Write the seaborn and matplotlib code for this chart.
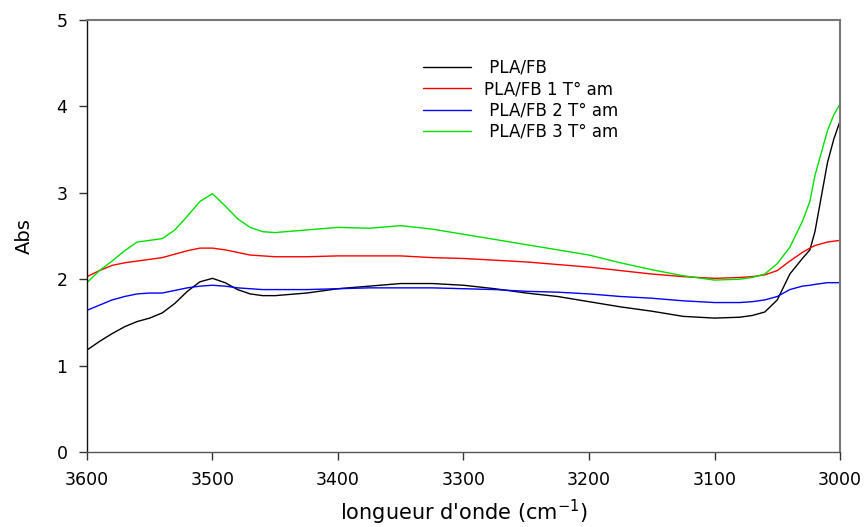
import matplotlib
matplotlib.use("Agg")
import matplotlib.pyplot as plt
import seaborn as sns
import pandas as pd

wavenumber = [3600, 3590, 3580, 3570, 3560, 3550, 3540, 3530, 3520, 3510, 3500,
              3490, 3480, 3470, 3460, 3450, 3425, 3400, 3375, 3350, 3325, 3300,
              3275, 3250, 3225, 3200, 3175, 3150, 3125, 3100, 3080, 3070, 3060,
              3050, 3040, 3030, 3024, 3020, 3010, 3005, 3000]

pla_fb = [1.18, 1.28, 1.37, 1.45, 1.51, 1.55, 1.61, 1.72, 1.86, 1.97, 2.01,
          1.96, 1.88, 1.83, 1.81, 1.81, 1.84, 1.89, 1.92, 1.95, 1.95, 1.93,
          1.89, 1.84, 1.80, 1.74, 1.68, 1.63, 1.57, 1.55, 1.56, 1.58, 1.62,
          1.76, 2.06, 2.24, 2.34, 2.55, 3.35, 3.62, 3.83]

pla_fb_1 = [2.03, 2.10, 2.16, 2.19, 2.21, 2.23, 2.25, 2.29, 2.33, 2.36, 2.36,
            2.34, 2.31, 2.28, 2.27, 2.26, 2.26, 2.27, 2.27, 2.27, 2.25, 2.24,
            2.22, 2.20, 2.17, 2.14, 2.10, 2.06, 2.03, 2.01, 2.02, 2.03, 2.05,
            2.10, 2.21, 2.31, 2.36, 2.39, 2.43, 2.44, 2.45]

pla_fb_2 = [1.64, 1.70, 1.76, 1.80, 1.83, 1.84, 1.84, 1.87, 1.90, 1.92, 1.93,
            1.92, 1.90, 1.89, 1.88, 1.88, 1.88, 1.89, 1.90, 1.90, 1.90, 1.89,
            1.88, 1.86, 1.85, 1.83, 1.80, 1.78, 1.75, 1.73, 1.73, 1.74, 1.76,
            1.80, 1.88, 1.92, 1.93, 1.94, 1.96, 1.96, 1.96]

pla_fb_3 = [1.96, 2.10, 2.21, 2.33, 2.43, 2.45, 2.47, 2.57, 2.73, 2.90, 2.99,
            2.85, 2.70, 2.60, 2.55, 2.54, 2.57, 2.60, 2.59, 2.62, 2.58, 2.52,
            2.46, 2.40, 2.34, 2.28, 2.19, 2.11, 2.04, 1.99, 2.00, 2.02, 2.06,
            2.18, 2.37, 2.67, 2.90, 3.20, 3.72, 3.90, 4.03]

series_labels = [" PLA/FB", "PLA/FB 1 T\u00b0 am", " PLA/FB 2 T\u00b0 am", " PLA/FB 3 T\u00b0 am"]
series_colors = ["#000000", "#ff0000", "#0000ff", "#00e000"]

x_ticks = [3600, 3500, 3400, 3300, 3200, 3100, 3000]
y_ticks = [0, 1, 2, 3, 4, 5]

sns.set_style("white")
plt.rcParams["font.family"] = ["DejaVu Sans"]
plt.rcParams["text.color"] = "black"
plt.rcParams["axes.labelcolor"] = "black"
plt.rcParams["xtick.color"] = "black"
plt.rcParams["ytick.color"] = "black"

rows = []
for lab, vals in zip(series_labels, [pla_fb, pla_fb_1, pla_fb_2, pla_fb_3]):
    for w, v in zip(wavenumber, vals):
        rows.append({"wavenumber": w, "Abs": v, "series": lab})
df = pd.DataFrame(rows)

fig = plt.figure(figsize=(8.67, 5.27), dpi=100)
ax = fig.add_axes([0.1003, 0.1423, 0.8686, 0.8197])

sns.lineplot(data=df, x="wavenumber", y="Abs", hue="series",
             palette=dict(zip(series_labels, series_colors)),
             hue_order=series_labels, linewidth=1.0, ax=ax, sort=False,
             estimator=None)

ax.set_xlim(3600, 3000)
ax.set_ylim(0, 5)
ax.set_xticks(x_ticks)
ax.set_yticks(y_ticks)
ax.tick_params(axis="both", direction="out", length=6, width=1, labelsize=12.5,
               color="#333333", labelcolor="black", pad=8, bottom=True, left=True)
ax.set_xlabel("longueur d'onde (cm$^{-1}$)", fontsize=15, labelpad=6)
ax.set_ylabel("Abs", fontsize=14, labelpad=16)

for side in ["top", "right"]:
    ax.spines[side].set_color("#777777")
    ax.spines[side].set_linewidth(1.5)
ax.spines["left"].set_color("#111111")
ax.spines["bottom"].set_color("#555555")
for side in ["left", "bottom"]:
    ax.spines[side].set_linewidth(1.0)

leg = ax.legend(loc="upper left", bbox_to_anchor=(0.446, 0.91), frameon=False,
                fontsize=12, handlelength=2.9, handletextpad=0.8,
                labelspacing=0.2, borderpad=0, borderaxespad=0)
for line in leg.get_lines():
    line.set_linewidth(1.0)

fig.savefig("out.png", dpi=100)
